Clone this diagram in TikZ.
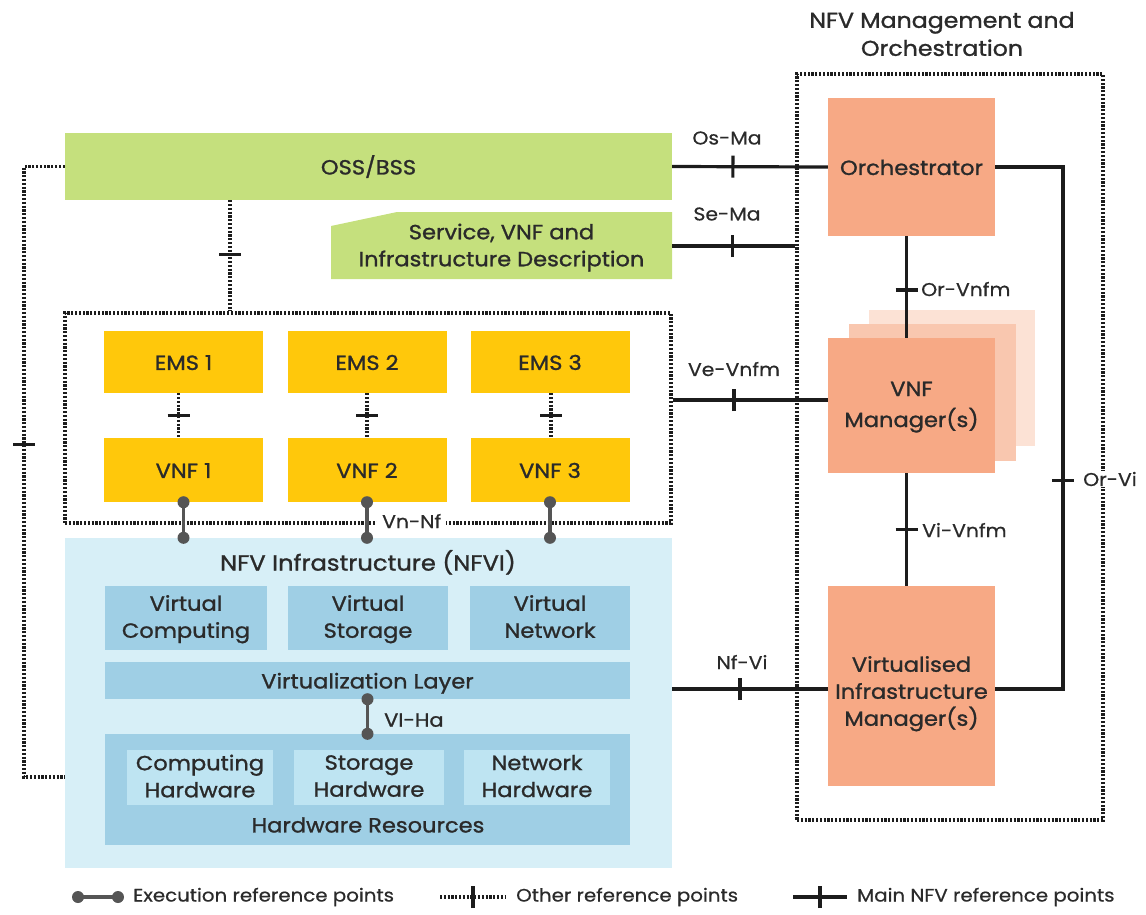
\documentclass[tikz,border=0pt]{standalone}
\usepackage{fontspec}
\setmainfont[FakeStretch=1.1]{Poppins}
\newfontfamily\medfont[FakeBold=1.2, FakeStretch=1.1]{Poppins}
\newfontfamily\lblfont[FakeBold=0.6, FakeStretch=1.1]{Poppins}
\usetikzlibrary{decorations.markings,calc}

\definecolor{ossgreen}{HTML}{C5E07D}
\definecolor{emsyellow}{HTML}{FFC80B}
\definecolor{nfvibg}{HTML}{D7EFF7}
\definecolor{nfvimid}{HTML}{9FCFE5}
\definecolor{nfvilt}{HTML}{BEE4F2}
\definecolor{manoor}{HTML}{F7A985}
\definecolor{manoor2}{HTML}{F9C7AF}
\definecolor{manoor3}{HTML}{FCE2D5}
\definecolor{ink}{HTML}{2A2A2A}
\definecolor{linkink}{HTML}{1C1C1C}
\definecolor{execgray}{HTML}{555555}

% uniform line heights inside boxes
\newcommand\topstrut{\rule{0pt}{24pt}}

\tikzset{
  box/.style={inner sep=0pt, align=center, text=ink,
    font=\medfont\fontsize{20.5}{27}\selectfont,
    execute at begin node=\topstrut, execute at end node=\strut},
  plainbox/.style={inner sep=0pt},
  lbl/.style={inner sep=1pt, text=ink, font=\lblfont\fontsize{18.5}{22}\selectfont},
  legendtxt/.style={inner sep=0pt, anchor=west, text=ink, font=\lblfont\fontsize{18}{20}\selectfont},
  mainlink/.style={draw=linkink, line width=3.2pt},
  otherlink/.style={draw=linkink, line width=3.6pt, dash pattern=on 2.2pt off 1.6pt},
  execline/.style={draw=execgray, line width=3.2pt},
  tickat/.style={postaction={decorate, decoration={markings,
      mark=at position #1 with {\draw[linkink, solid, line width=3.2pt] (0pt,-11pt) -- (0pt,11pt);}}}},
}

\begin{document}
\begin{tikzpicture}[x=1pt, y=-1pt]
\useasboundingbox (0,0) rectangle (1146,914);

% ---------- MANO block ----------
\node[inner sep=0pt, text=ink, align=center, font=\medfont\fontsize{21.5}{28}\selectfont]
  (manotitle) at (942,34) {NFV Management and\\Orchestration};
\node[otherlink, minimum width=306pt, minimum height=746pt, inner sep=0pt] (mano) at (950,447) {};

\node[box, fill=manoor, minimum width=167pt, minimum height=138pt] (orch) at (911.5,167) {Orchestrator};
\node[plainbox, fill=manoor3, minimum width=166pt, minimum height=136pt] (vnfm3) at (952,378) {};
\node[plainbox, fill=manoor2, minimum width=167pt, minimum height=137pt] (vnfm2) at (932.5,392.5) {};
\node[plainbox, fill=manoor, minimum width=167pt, minimum height=135pt] (vnfm) at (911.5,405.5) {};
\node[box, font=\medfont\fontsize{20.5}{31}\selectfont] (vnfmtxt) at ([yshift=-3.5pt]vnfm.center) {VNF\\Manager(s)};
\node[plainbox, fill=manoor, minimum width=167pt, minimum height=200pt] (vim) at (911.5,686) {};
\node[box] (vimtxt) at ([yshift=-9pt]vim.center) {Virtualised\\Infrastructure\\Manager(s)};

% ---------- OSS/BSS and descriptors ----------
\node[box, fill=ossgreen, minimum width=607pt, minimum height=67pt] (oss) at (368.5,166.5) {OSS/BSS};
\fill[ossgreen] (397,212) -- (672,212) -- (672,279) -- (331,279) -- (331,226) -- cycle;
\node[plainbox, minimum width=341pt, minimum height=67pt] (desc) at (501.5,246) {};
\node[box] (desctxt) at ([yshift=-3pt]desc.center) {Service, VNF and\\Infrastructure Description};

% ---------- VNF group ----------
\node[otherlink, minimum width=606pt, minimum height=210pt, inner sep=0pt] (vnfgrp) at (368,418) {};
\foreach \i/\cx in {1/183.5, 2/367, 3/550}{
  \node[box, fill=emsyellow, minimum width=159pt, minimum height=62pt] (ems\i) at (\cx,362) {EMS \i};
  \node[box, fill=emsyellow, minimum width=159pt, minimum height=64pt] (vnf\i) at (\cx,470) {VNF \i};
}
\draw[otherlink, tickat=0.5] ([xshift=-5pt]ems1.south) -- ([xshift=-5pt]vnf1.north);
\draw[otherlink, tickat=0.5] (ems2.south) -- (vnf2.north);
\draw[otherlink, tickat=0.5] ([xshift=1pt]ems3.south) -- ([xshift=1pt]vnf3.north);

% ---------- NFVI ----------
\node[plainbox, fill=nfvibg, minimum width=607pt, minimum height=330pt] (nfvi) at (368.5,703) {};
\node[box, font=\medfont\fontsize{22}{26}\selectfont] (nfvititle) at (368,562.5) {NFV Infrastructure (NFVI)};
\foreach \n/\cx/\w/\t in {vc/186/162/{Virtual\\Computing}, vs/368/160/{Virtual\\Storage}, vn/550/160/{Virtual\\Network}}{
  \node[plainbox, fill=nfvimid, minimum width=\w pt, minimum height=64pt] (\n) at (\cx,618) {};
  \node[box] (\n txt) at ([yshift=-2.5pt]\n.center) {\t};
}
\node[box, fill=nfvimid, minimum width=525pt, minimum height=37pt] (vl) at (367.5,680.5) {Virtualization Layer};
\node[plainbox, fill=nfvimid, minimum width=525pt, minimum height=111pt] (hr) at (367.5,789.5) {};
\node[box] (hrtitle) at (368,824.5) {Hardware Resources};
\foreach \n/\cx/\w/\t in {ch/200/146/{Computing\\Hardware}, sh/369/150/{Storage\\Hardware}, nh/537/146/{Network\\Hardware}}{
  \node[plainbox, fill=nfvilt, minimum width=\w pt, minimum height=55pt] (\n) at (\cx,777.5) {};
  \node[box] (\n txt) at ([yshift=-2.5pt]\n.center) {\t};
}

% ---------- execution reference points ----------
\node[lbl, fill=white, anchor=west, inner xsep=5pt] (vnnf) at (377,521) {Vn-Nf};
\foreach \i in {1,2,3}{
  \coordinate (xa\i) at (vnf\i.south);
  \coordinate (xb\i) at (vnf\i.south |- nfvi.north);
  \draw[execline] (xa\i) -- (xb\i);
  \fill[execgray] (xa\i) circle (6pt) (xb\i) circle (6pt);
}
\coordinate (via) at (vl.south);
\coordinate (vib) at (hr.north);
\draw[execline] (via) -- (vib);
\fill[execgray] (via) circle (6pt) (vib) circle (6pt);
\node[box, anchor=west, font=\medfont\fontsize{19}{22}\selectfont,
  execute at begin node={}, execute at end node={}] (viha) at (384,718) {VI-Ha};

% ---------- other reference points ----------
\draw[otherlink, tickat=0.49] ([xshift=-138.5pt]oss.south) -- ([xshift=-138pt]vnfgrp.north);
\coordinate (lt) at (24,166.5);
\coordinate (lb) at (24,777);
\draw[otherlink, tickat=0.461] (oss.west) -- (lt) -- (lb) -- (lb -| nfvi.west);

% ---------- main NFV reference points ----------
\draw[mainlink, tickat=0.39] (oss.east) -- (orch.west);
\node[lbl] (osma) at (727,138) {Os-Ma};
\draw[mainlink, tickat=0.49] (desc.east -| oss.east) -- (desc.east -| mano.west);
\node[lbl] (sema) at (727,214) {Se-Ma};
\coordinate (vea) at ([yshift=5.5pt]vnfm.west);
\draw[mainlink, tickat=0.395] (vea -| vnfgrp.east) -- (vea);
\node[lbl] (vevnfm) at (734,369) {Ve-Vnfm};
\coordinate (nfa) at ([yshift=-3pt]vim.west);
\draw[mainlink, tickat=0.436] (nfa -| nfvi.east) -- (nfa);
\node[lbl] (nfvil) at (742,662) {Nf-Vi};
\draw[mainlink, tickat=0.53] ([xshift=-5pt]orch.south) -- ([xshift=-5pt]vnfm.north);
\node[lbl, anchor=west] (orvnfm) at (920,289) {Or-Vnfm};
\draw[mainlink, tickat=0.5] ([xshift=-5pt]vnfm.south) -- ([xshift=-5pt]vim.north);
\node[lbl, anchor=west] (vivnfm) at (921,530) {Vi-Vnfm};
\coordinate (ort) at (1063,167);
\coordinate (orb) at (1063,689);
\draw[mainlink, tickat=0.58] (orch.east) -- (ort) -- (orb) -- (orb -| vim.east);
\node[lbl, anchor=west, fill=white, inner xsep=3pt] (orvi) at (1080,479) {Or-Vi};

% ---------- legend ----------
\coordinate (lg1a) at (78,897);
\coordinate (lg1b) at (118,897);
\draw[execline] (lg1a) -- (lg1b);
\fill[execgray] (lg1a) circle (6pt) (lg1b) circle (6pt);
\node[legendtxt] (lg1) at (133,897) {Execution reference points};
\coordinate (lg2a) at (440,897);
\coordinate (lg2b) at (506,897);
\draw[otherlink, tickat=0.5] (lg2a) -- (lg2b);
\node[legendtxt] (lg2) at (516,897) {Other reference points};
\coordinate (lg3a) at (793,897);
\coordinate (lg3b) at (847,897);
\draw[mainlink, tickat=0.5] (lg3a) -- (lg3b);
\node[legendtxt] (lg3) at (857,897) {Main NFV reference points};
\end{tikzpicture}
\end{document}
